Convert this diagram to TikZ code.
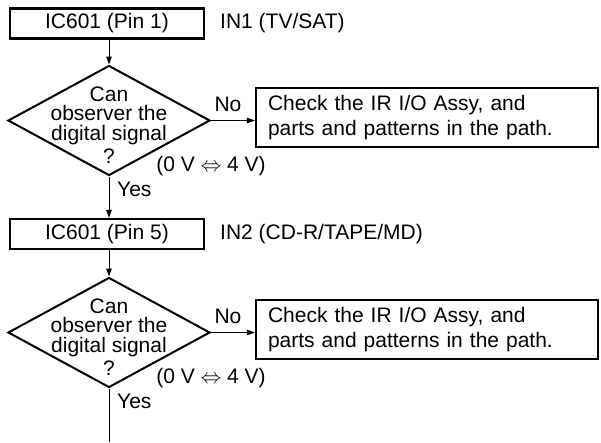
\documentclass[tikz,border=0pt]{standalone}
\usepackage{fontspec}
\setmainfont{Liberation Sans}
\usetikzlibrary{shapes.geometric,arrows.meta,calc}
\begin{document}
\begin{tikzpicture}[x=1pt,y=-1pt,
  every node/.style={font=\fontsize{21}{25}\selectfont},
  pinbox/.style={draw,line width=2.2pt,minimum width=194pt,minimum height=30pt,inner sep=0pt},
  checkbox/.style={draw,line width=2.2pt,minimum width=342pt,minimum height=59pt,inner xsep=12pt,inner ysep=0pt,text width=318pt,align=left},
  dia/.style={draw,diamond,line width=2pt,minimum width=202pt,minimum height=110pt,inner sep=0pt,aspect=1.84},
  diatext/.style={align=center,inner sep=0pt,font=\fontsize{21}{19.5}\selectfont},
  lbl/.style={inner sep=0pt},
  flow/.style={line width=1pt,-{Triangle[length=8pt,width=5.5pt]}}]
\useasboundingbox (0,0) rectangle (601,442);
% first stage
\node[pinbox] (p1) at (107,23.5) {IC601 (Pin 1)};
\node[lbl,anchor=west] (in1) at (220,23.5) {IN1 (TV/SAT)};
\node[dia] (d1) at (109,120.5) {};
\node[diatext] (t1) at (109,125) {Can\\observer the\\digital signal\\[4pt]?};
\node[checkbox] (c1) at (427,117.5) {Check the IR I/O Assy, and\\parts and patterns in the path.};
\node[lbl] (no1) at (228,104) {No};
\node[lbl] (v1) at (211,166.5) {(0 V $\Leftrightarrow$ 4 V)};
\node[lbl,anchor=west] (y1) at (117,189) {Yes};
% second stage
\node[pinbox] (p2) at (107,234) {IC601 (Pin 5)};
\node[lbl,anchor=west] (in2) at (220,234) {IN2 (CD-R/TAPE/MD)};
\node[dia] (d2) at (109,332.5) {};
\node[diatext] (t2) at (109,337) {Can\\observer the\\digital signal\\[4pt]?};
\node[checkbox] (c2) at (427,329.5) {Check the IR I/O Assy, and\\parts and patterns in the path.};
\node[lbl] (no2) at (228,316) {No};
\node[lbl] (v2) at (211,378.5) {(0 V $\Leftrightarrow$ 4 V)};
\node[lbl,anchor=west] (y2) at (117,401) {Yes};
\coordinate (end) at (109,442);
% connectors
\draw[flow] (p1.south -| d1.north) -- (d1.north);
\draw[flow] (d1.east) -- (d1.east -| c1.west);
\draw[flow] (d1.south) -- (d1.south |- p2.north);
\draw[flow] (p2.south -| d2.north) -- (d2.north);
\draw[flow] (d2.east) -- (d2.east -| c2.west);
\draw[line width=1pt] (d2.south) -- (end);
\end{tikzpicture}
\end{document}
